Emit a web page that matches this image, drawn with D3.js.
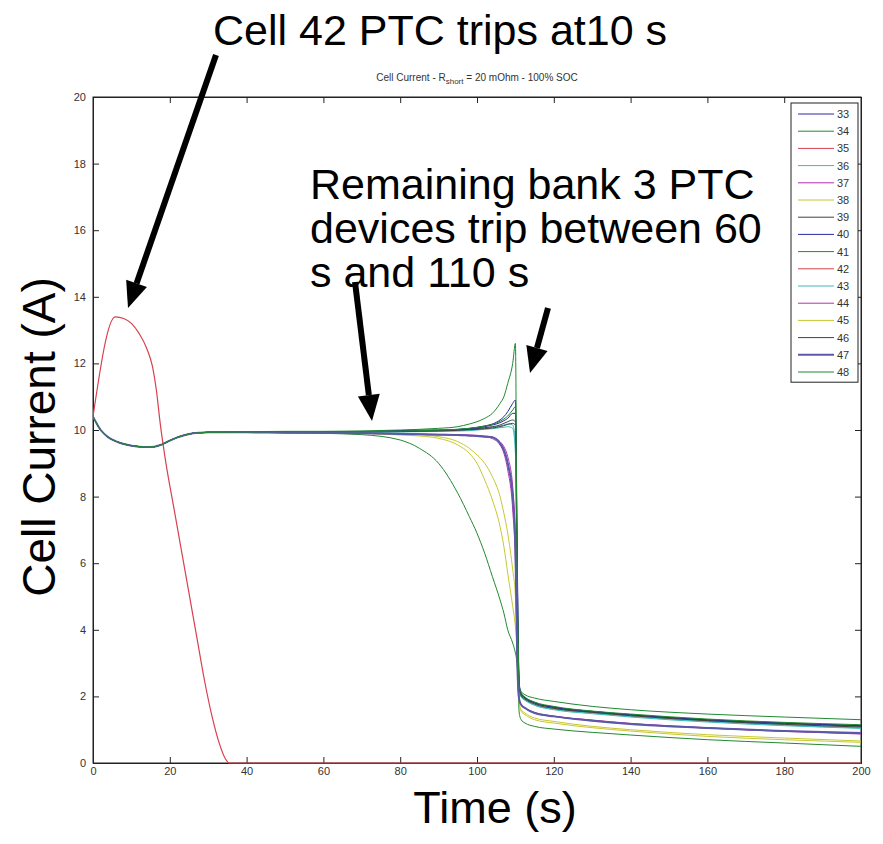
<!DOCTYPE html>
<html><head><meta charset="utf-8">
<script src="https://cdn.jsdelivr.net/npm/d3@7"></script>
<style>body{margin:0;background:#fff}svg{display:block}</style>
</head><body><svg id="c" width="883" height="844"></svg>
<script>
// ---- data ----
const cells = ["33","34","35","36","37","38","39","40","41","42","43","44","45","46","47","48"];
const colors = ["#2a2aa0","#208a30","#d8404f","#40b8b8","#b030b0","#c8c830","#404040","#2a2aa0","#208a30","#d8404f","#40b8b8","#b030b0","#c8c830","#404040","#5a5aa8","#208a30"];
const widths = [1,1,1,1,1,1,1,1,1,1,1,1,1,1,2,1];
const T = [0,2,4,6,8,10,12,14,16,18,20,22,24,26,28,30,40,50,60,70,80,85,90,95,98,100,102,104,106,107,108,109.3,110,110.5,111,111.5,112.5,115,120,130,140,160,180,200];
const T42 = [0,5.8,8,10,12,14,15.5,16.5,17.5,19,21,23,25,27,29,31,33,34.5,35.5,60,100,150,200];
const v42 = [10.4,13.4,13.35,13.2,12.9,12.45,11.9,11.2,10.2,9.0,7.7,6.4,5.1,3.8,2.5,1.4,0.55,0.12,0,0,0,0,0];
const v33 = [10.4,10.0,9.78,9.66,9.58,9.53,9.5,9.49,9.5,9.57,9.68,9.78,9.85,9.9,9.92,9.93,9.94,9.95,9.95,9.96,9.98,10.0,10.0,10.02,10.05,10.08,10.12,10.18,10.3,10.4,10.55,10.8,10.9,6.0,2.4,2.1,1.95,1.8,1.68,1.55,1.45,1.3,1.2,1.12];
const v34 = [10.4,10.0,9.78,9.66,9.58,9.53,9.5,9.49,9.5,9.57,9.68,9.78,9.85,9.9,9.92,9.93,9.95,9.96,9.96,9.97,10.0,10.02,10.05,10.1,10.18,10.25,10.35,10.5,10.8,11.0,11.4,12.0,12.6,5.0,2.3,2.15,2.05,1.95,1.85,1.7,1.6,1.47,1.38,1.3];
const v35 = [10.4,10.0,9.78,9.66,9.58,9.53,9.5,9.49,9.5,9.57,9.68,9.78,9.85,9.9,9.92,9.93,9.93,9.92,9.91,9.9,9.88,9.87,9.86,9.85,9.83,9.82,9.8,9.78,9.6,9.4,9.0,8.0,6.5,3.0,1.9,1.75,1.65,1.5,1.4,1.27,1.17,1.05,0.96,0.9];
const v36 = [10.4,10.0,9.78,9.66,9.58,9.53,9.5,9.49,9.5,9.57,9.68,9.78,9.85,9.9,9.92,9.93,9.93,9.93,9.93,9.93,9.95,9.96,9.97,9.98,10.0,10.02,10.05,10.08,10.12,10.15,10.18,10.15,9.6,4.5,2.2,2.0,1.9,1.75,1.62,1.5,1.4,1.25,1.14,1.05];
const v37 = [10.4,10.0,9.78,9.66,9.58,9.53,9.5,9.49,9.5,9.57,9.68,9.78,9.85,9.9,9.92,9.93,9.93,9.92,9.91,9.9,9.88,9.87,9.86,9.85,9.84,9.83,9.8,9.74,9.55,9.3,8.8,7.6,6.0,3.2,1.9,1.75,1.65,1.5,1.4,1.28,1.18,1.05,0.95,0.87];
const v38 = [10.4,10.0,9.78,9.66,9.58,9.53,9.5,9.49,9.5,9.57,9.68,9.78,9.85,9.9,9.92,9.93,9.93,9.92,9.91,9.9,9.85,9.82,9.75,9.55,9.3,9.0,8.5,7.9,7.1,6.5,5.7,4.7,4.1,3.3,1.8,1.6,1.5,1.35,1.25,1.1,1.0,0.85,0.75,0.66];
const v39 = [10.4,10.0,9.78,9.66,9.58,9.53,9.5,9.49,9.5,9.57,9.68,9.78,9.85,9.9,9.92,9.93,9.94,9.94,9.94,9.94,9.96,9.97,9.98,10.0,10.02,10.04,10.07,10.1,10.15,10.2,10.25,10.3,10.25,5.0,2.3,2.05,1.95,1.8,1.66,1.53,1.44,1.28,1.18,1.1];
const v40 = [10.4,10.0,9.78,9.66,9.58,9.53,9.5,9.49,9.5,9.57,9.68,9.78,9.85,9.9,9.92,9.93,9.94,9.95,9.95,9.95,9.97,9.98,9.99,10.01,10.04,10.06,10.1,10.15,10.22,10.28,10.35,10.5,10.5,5.5,2.3,2.08,1.97,1.82,1.68,1.55,1.45,1.3,1.2,1.12];
const v41 = [10.4,10.0,9.78,9.66,9.58,9.53,9.5,9.49,9.5,9.57,9.68,9.78,9.85,9.9,9.92,9.93,9.93,9.92,9.9,9.86,9.7,9.45,9.0,8.1,7.4,6.9,6.3,5.6,4.9,4.5,4.0,3.6,3.3,2.9,1.5,1.3,1.2,1.1,1.02,0.92,0.84,0.7,0.6,0.5];
const v43 = [10.4,10.0,9.78,9.66,9.58,9.53,9.5,9.49,9.5,9.57,9.68,9.78,9.85,9.9,9.92,9.93,9.93,9.93,9.93,9.93,9.94,9.95,9.96,9.97,9.98,10.0,10.02,10.04,10.07,10.08,10.1,10.05,9.3,4.0,2.15,1.98,1.88,1.73,1.6,1.48,1.38,1.23,1.12,1.04];
const v44 = [10.4,10.0,9.78,9.66,9.58,9.53,9.5,9.49,9.5,9.57,9.68,9.78,9.85,9.9,9.92,9.93,9.93,9.92,9.91,9.9,9.89,9.88,9.87,9.86,9.85,9.84,9.82,9.78,9.65,9.5,9.2,8.3,6.5,3.1,1.9,1.76,1.66,1.52,1.41,1.29,1.19,1.06,0.96,0.88];
const v45 = [10.4,10.0,9.78,9.66,9.58,9.53,9.5,9.49,9.5,9.57,9.68,9.78,9.85,9.9,9.92,9.93,9.93,9.92,9.91,9.9,9.88,9.86,9.8,9.65,9.45,9.25,9.0,8.6,8.0,7.5,6.9,5.8,5.0,3.5,1.75,1.55,1.45,1.3,1.2,1.06,0.96,0.8,0.7,0.62];
const v46 = [10.4,10.0,9.78,9.66,9.58,9.53,9.5,9.49,9.5,9.57,9.68,9.78,9.85,9.9,9.92,9.93,9.94,9.94,9.94,9.94,9.95,9.96,9.97,9.99,10.01,10.02,10.04,10.06,10.1,10.13,10.17,10.2,10.15,4.8,2.25,2.02,1.92,1.77,1.64,1.52,1.42,1.27,1.16,1.08];
const v47 = [10.4,10.0,9.78,9.66,9.58,9.53,9.5,9.49,9.5,9.57,9.68,9.78,9.85,9.9,9.92,9.93,9.93,9.92,9.91,9.9,9.88,9.87,9.86,9.85,9.83,9.82,9.8,9.78,9.6,9.4,9.0,8.0,6.5,3.0,1.9,1.75,1.65,1.5,1.4,1.27,1.17,1.05,0.96,0.9];
const v48 = [10.4,10.0,9.78,9.66,9.58,9.53,9.5,9.49,9.5,9.57,9.68,9.78,9.85,9.9,9.92,9.93,9.94,9.95,9.95,9.95,9.97,9.98,10.0,10.02,10.05,10.08,10.12,10.17,10.26,10.33,10.42,10.6,10.7,5.6,2.3,2.1,1.98,1.83,1.7,1.56,1.47,1.32,1.22,1.15];
const seriesVals = [v33,v34,v35,v36,v37,v38,v39,v40,v41,v42,v43,v44,v45,v46,v47,v48];
const xTicks = [0,20,40,60,80,100,120,140,160,180,200];
const yTicks = [0,2,4,6,8,10,12,14,16,18,20];

// ---- chart ----
const svg = d3.select("#c");
const L = 93, R = 861, Tp = 97, B = 763;
const x = d3.scaleLinear().domain([0,200]).range([L,R]);
const y = d3.scaleLinear().domain([0,20]).range([B,Tp]);
const font = "Arial, 'Liberation Sans', sans-serif";

svg.append("rect").attr("width",883).attr("height",844).attr("fill","#fff");

const axCol = "#222";
svg.append("rect").attr("x",L).attr("y",Tp).attr("width",R-L).attr("height",B-Tp)
  .attr("fill","none").attr("stroke",axCol).attr("stroke-width",1);

const gxB = svg.append("g").attr("transform",`translate(0,${B})`)
  .call(d3.axisBottom(x).tickValues(xTicks).tickSize(-6).tickPadding(4));
const gxT = svg.append("g").attr("transform",`translate(0,${Tp})`)
  .call(d3.axisTop(x).tickValues(xTicks).tickSize(-6).tickFormat(""));
const gyL = svg.append("g").attr("transform",`translate(${L},0)`)
  .call(d3.axisLeft(y).tickValues(yTicks).tickSize(-6).tickPadding(6));
const gyR = svg.append("g").attr("transform",`translate(${R},0)`)
  .call(d3.axisRight(y).tickValues(yTicks).tickSize(-6).tickFormat(""));
[gxB,gxT,gyL,gyR].forEach(g=>{
  g.select(".domain").attr("stroke",axCol);
  g.selectAll(".tick line").attr("stroke",axCol);
  g.selectAll("text").attr("font-family",font).attr("font-size",11).attr("fill","#333");
});
gyL.selectAll(".tick text").attr("dx",-1);

const clip = svg.append("clipPath").attr("id","pc").append("rect")
  .attr("x",L).attr("y",Tp).attr("width",R-L).attr("height",B-Tp+2);
const line = d3.line().x(d=>x(d[0])).y(d=>y(d[1])).curve(d3.curveMonotoneX);
const gl = svg.append("g").attr("clip-path","url(#pc)");
cells.forEach((c,i)=>{
  const tt = c==="42" ? T42 : T;
  const pts = tt.map((t,j)=>[t,seriesVals[i][j]]);
  gl.append("path").attr("d",line(pts)).attr("fill","none")
    .attr("stroke",colors[i]).attr("stroke-width", c==="42"?1.2:widths[i]);
});

// legend
const lgX = 791, lgY = 103, rowH = 17.2;
svg.append("rect").attr("x",lgX).attr("y",lgY).attr("width",67).attr("height",cells.length*rowH+4)
  .attr("fill","#fff").attr("stroke",axCol).attr("stroke-width",1);
cells.forEach((c,i)=>{
  const yy = lgY + 11 + i*rowH;
  svg.append("line").attr("x1",798).attr("x2",834).attr("y1",yy).attr("y2",yy)
    .attr("stroke",colors[i]).attr("stroke-width",widths[i]);
  svg.append("text").attr("x",837).attr("y",yy+4).text(c)
    .attr("font-family",font).attr("font-size",11).attr("fill","#333");
});

// title
const tt = svg.append("text").attr("x",(L+R)/2).attr("y",81).attr("text-anchor","middle")
  .attr("font-family",font).attr("font-size",10).attr("fill","#333");
tt.append("tspan").text("Cell Current - R");
tt.append("tspan").attr("font-size",8).attr("dy",3).text("short");
tt.append("tspan").attr("dy",-3).text(" = 20 mOhm - 100% SOC");

// axis labels
svg.append("text").attr("transform","translate(55,437) rotate(-90)").attr("text-anchor","middle")
  .attr("font-family",font).attr("font-size",46).attr("fill","#000").text("Cell Current (A)");
svg.append("text").attr("x",495).attr("y",823).attr("text-anchor","middle")
  .attr("font-family",font).attr("font-size",45).attr("fill","#000").text("Time (s)");

// annotations
svg.append("text").attr("x",213).attr("y",45)
  .attr("font-family",font).attr("font-size",43).attr("fill","#000").text("Cell 42 PTC trips at10 s");
["Remaining bank 3 PTC","devices trip between 60","s and 110 s"].forEach((s,i)=>{
  svg.append("text").attr("x",310).attr("y",199+i*44)
    .attr("font-family",font).attr("font-size",43).attr("fill","#000").text(s);
});

function arrow(x1,y1,x2,y2){
  const ang = Math.atan2(y2-y1,x2-x1), hl = 26, hw = 11;
  const bx = x2 - hl*Math.cos(ang), by = y2 - hl*Math.sin(ang);
  svg.append("line").attr("x1",x1).attr("y1",y1).attr("x2",bx).attr("y2",by)
    .attr("stroke","#000").attr("stroke-width",6);
  const px = -Math.sin(ang)*hw, py = Math.cos(ang)*hw;
  svg.append("path").attr("d",`M${x2},${y2}L${bx+px},${by+py}L${bx-px},${by-py}Z`).attr("fill","#000");
}
arrow(216,55,128,308);
arrow(355,282,372,421);
arrow(548,308,530,373);
</script></body></html>
